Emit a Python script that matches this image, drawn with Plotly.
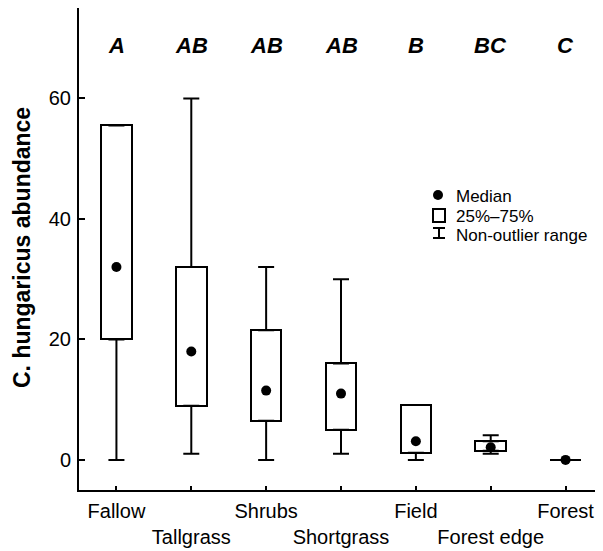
import plotly.graph_objects as go

# ---- data ----
categories = ["Fallow", "Tallgrass", "Shrubs", "Shortgrass", "Field", "Forest edge", "Forest"]
tick_labels = ["Fallow", "<br>Tallgrass", "Shrubs", "<br>Shortgrass", "Field", "<br>Forest edge", "Forest"]
minimum = [0, 1, 0, 1, 0, 1, 0]
q1 = [20, 9, 6.5, 5, 1.2, 1.5, 0]
median = [32, 18, 11.5, 11, 3.1, 2.1, 0]
q3 = [55.5, 32, 21.5, 16, 9.1, 3.1, 0]
maximum = [55.5, 60, 32, 30, 9.1, 4.1, 0]
group_letters = ["A", "AB", "AB", "AB", "B", "BC", "C"]

# page body has an 8px margin; size the figure so the plot lands where the reference has it
OFF = 8
W, H = 603 - OFF, 551 - OFF
L, R, T, B = 79 - OFF, 0, 0, 551 - 490
XR = [-0.5, 6.5]
YR = [-5, 75]
pw = W - L - R
ph = H - T - B


def xd(px):  # page px -> x data
    return XR[0] + (px - OFF - L) / pw * (XR[1] - XR[0])


def yd(py):  # page px -> y data
    return YR[1] - (py - OFF - T) / ph * (YR[1] - YR[0])


def xp(px):  # page px -> paper x
    return (px - OFF - L) / pw


def yp(py):  # page px -> paper y
    return 1 - (py - OFF - T) / ph


FONT = "Liberation Sans, Arial, sans-serif"

fig = go.Figure()

# boxes (25%-75%)
fig.add_trace(go.Bar(
    x=categories,
    y=[b - a for a, b in zip(q1, q3)],
    base=q1,
    width=0.41,
    marker=dict(color="white", line=dict(color="black", width=2)),
    showlegend=False,
    hoverinfo="skip",
))

# upper whiskers
fig.add_trace(go.Scatter(
    x=categories, y=q3, mode="markers",
    marker=dict(size=1, color="rgba(0,0,0,0)"),
    error_y=dict(type="data", symmetric=False,
                 array=[m - b for m, b in zip(maximum, q3)],
                 arrayminus=[0] * len(categories),
                 color="black", thickness=2, width=8),
    showlegend=False, hoverinfo="skip",
))

# lower whiskers
fig.add_trace(go.Scatter(
    x=categories, y=q1, mode="markers",
    marker=dict(size=1, color="rgba(0,0,0,0)"),
    error_y=dict(type="data", symmetric=False,
                 array=[0] * len(categories),
                 arrayminus=[a - m for a, m in zip(q1, minimum)],
                 color="black", thickness=2, width=8),
    showlegend=False, hoverinfo="skip",
))

# medians
fig.add_trace(go.Scatter(
    x=categories, y=median, mode="markers",
    marker=dict(size=10, color="black"),
    showlegend=False, hoverinfo="skip",
))

annotations = []
# group letters
for c, g in zip(categories, group_letters):
    annotations.append(dict(
        x=c, y=yd(45), xref="x", yref="y", text="<b><i>%s</i></b>" % g,
        showarrow=False, font=dict(family=FONT, size=22, color="black"),
        xanchor="center", yanchor="middle",
    ))

# y title
annotations.append(dict(
    x=xp(22), y=yp(248), xref="paper", yref="paper",
    text="<b>C. hungaricus abundance</b>", textangle=-90,
    showarrow=False, font=dict(family=FONT, size=23, color="black"),
    xanchor="center", yanchor="middle", borderpad=0,
))

# legend labels
legend_items = ["Median", "25%\u201375%", "Non-outlier range"]
legend_y = [196, 216, 235]
for t, py in zip(legend_items, legend_y):
    annotations.append(dict(
        x=xd(454), y=yd(py), xref="x", yref="y", text=t,
        showarrow=False, font=dict(family=FONT, size=17, color="black"),
        xanchor="left", yanchor="middle",
    ))

shapes = [
    # median icon
    dict(type="circle", xref="x", yref="y",
         x0=xd(433), x1=xd(443), y0=yd(190), y1=yd(200),
         fillcolor="black", line=dict(color="black", width=0)),
    # box icon
    dict(type="rect", xref="x", yref="y",
         x0=xd(433), x1=xd(445), y0=yd(209), y1=yd(222),
         fillcolor="white", line=dict(color="black", width=2)),
    # whisker icon
    dict(type="line", xref="x", yref="y",
         x0=xd(439), x1=xd(439), y0=yd(228), y1=yd(238),
         line=dict(color="black", width=2)),
    dict(type="line", xref="x", yref="y",
         x0=xd(433), x1=xd(445), y0=yd(228), y1=yd(228),
         line=dict(color="black", width=2)),
    dict(type="line", xref="x", yref="y",
         x0=xd(433), x1=xd(445), y0=yd(238), y1=yd(238),
         line=dict(color="black", width=2)),
]

fig.update_layout(
    width=W, height=H,
    margin=dict(l=L, r=R, t=T, b=B, pad=0, autoexpand=False),
    paper_bgcolor="white", plot_bgcolor="white",
    font=dict(family=FONT, size=20, color="black"),
    annotations=annotations,
    shapes=shapes,
    bargap=0,
)

fig.update_xaxes(
    type="category", categoryorder="array", categoryarray=categories,
    range=XR, tickmode="array", tickvals=categories, ticktext=tick_labels,
    tickangle=0, automargin=False,
    showline=True, linecolor="black", linewidth=2, mirror=False,
    ticks="inside", ticklen=4, tickwidth=1.5, tickcolor="black",
    showgrid=False, zeroline=False,
    tickfont=dict(family=FONT, size=20, color="black"),
    ticklabelstandoff=2,
)

fig.update_yaxes(
    range=YR, tickmode="array", tickvals=[0, 20, 40, 60],
    automargin=False,
    showline=True, linecolor="black", linewidth=2, mirror=False,
    ticks="inside", ticklen=6, tickwidth=1.5, tickcolor="black",
    showgrid=False, zeroline=False,
    tickfont=dict(family=FONT, size=20, color="black"),
    ticklabelstandoff=2,
)

fig.write_html("out.html")
